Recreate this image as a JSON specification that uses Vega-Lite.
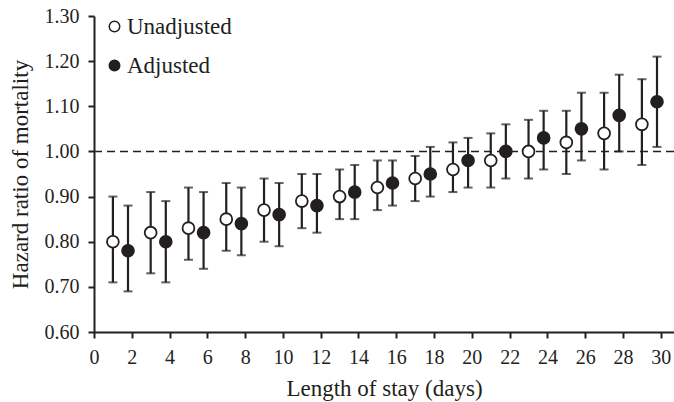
{
  "$schema": "https://vega.github.io/schema/vega-lite/v6.json",
  "width": 580,
  "height": 316,
  "autosize": {"type": "none"},
  "padding": {"left": 94, "top": 16, "right": 0, "bottom": 70},
  "background": "white",
  "config": {
    "view": {"stroke": null},
    "font": "Liberation Serif",
    "axis": {"grid": false, "domainColor": "#231f20", "tickColor": "#231f20", "labelColor": "#231f20", "titleColor": "#231f20", "labelFont": "Liberation Serif", "titleFont": "Liberation Serif", "titleFontWeight": "normal"}
  },
  "data": {
    "values": [
      {"group": "Unadjusted", "x": 1, "hr": 0.80, "lo": 0.71, "hi": 0.90},
      {"group": "Unadjusted", "x": 3, "hr": 0.82, "lo": 0.73, "hi": 0.91},
      {"group": "Unadjusted", "x": 5, "hr": 0.83, "lo": 0.76, "hi": 0.92},
      {"group": "Unadjusted", "x": 7, "hr": 0.85, "lo": 0.78, "hi": 0.93},
      {"group": "Unadjusted", "x": 9, "hr": 0.87, "lo": 0.80, "hi": 0.94},
      {"group": "Unadjusted", "x": 11, "hr": 0.89, "lo": 0.83, "hi": 0.95},
      {"group": "Unadjusted", "x": 13, "hr": 0.90, "lo": 0.85, "hi": 0.96},
      {"group": "Unadjusted", "x": 15, "hr": 0.92, "lo": 0.87, "hi": 0.98},
      {"group": "Unadjusted", "x": 17, "hr": 0.94, "lo": 0.89, "hi": 0.99},
      {"group": "Unadjusted", "x": 19, "hr": 0.96, "lo": 0.91, "hi": 1.02},
      {"group": "Unadjusted", "x": 21, "hr": 0.98, "lo": 0.92, "hi": 1.04},
      {"group": "Unadjusted", "x": 23, "hr": 1.00, "lo": 0.94, "hi": 1.07},
      {"group": "Unadjusted", "x": 25, "hr": 1.02, "lo": 0.95, "hi": 1.09},
      {"group": "Unadjusted", "x": 27, "hr": 1.04, "lo": 0.96, "hi": 1.13},
      {"group": "Unadjusted", "x": 29, "hr": 1.06, "lo": 0.97, "hi": 1.16},
      {"group": "Adjusted", "x": 1.8, "hr": 0.78, "lo": 0.69, "hi": 0.88},
      {"group": "Adjusted", "x": 3.8, "hr": 0.80, "lo": 0.71, "hi": 0.89},
      {"group": "Adjusted", "x": 5.8, "hr": 0.82, "lo": 0.74, "hi": 0.91},
      {"group": "Adjusted", "x": 7.8, "hr": 0.84, "lo": 0.77, "hi": 0.92},
      {"group": "Adjusted", "x": 9.8, "hr": 0.86, "lo": 0.79, "hi": 0.93},
      {"group": "Adjusted", "x": 11.8, "hr": 0.88, "lo": 0.82, "hi": 0.95},
      {"group": "Adjusted", "x": 13.8, "hr": 0.91, "lo": 0.85, "hi": 0.97},
      {"group": "Adjusted", "x": 15.8, "hr": 0.93, "lo": 0.88, "hi": 0.98},
      {"group": "Adjusted", "x": 17.8, "hr": 0.95, "lo": 0.90, "hi": 1.01},
      {"group": "Adjusted", "x": 19.8, "hr": 0.98, "lo": 0.92, "hi": 1.03},
      {"group": "Adjusted", "x": 21.8, "hr": 1.00, "lo": 0.94, "hi": 1.06},
      {"group": "Adjusted", "x": 23.8, "hr": 1.03, "lo": 0.96, "hi": 1.09},
      {"group": "Adjusted", "x": 25.8, "hr": 1.05, "lo": 0.98, "hi": 1.13},
      {"group": "Adjusted", "x": 27.8, "hr": 1.08, "lo": 1.00, "hi": 1.17},
      {"group": "Adjusted", "x": 29.8, "hr": 1.11, "lo": 1.01, "hi": 1.21}
    ]
  },
  "encoding": {
    "x": {
      "field": "x", "type": "quantitative",
      "scale": {"domain": [0, 30.7], "nice": false, "zero": false},
      "axis": {
        "title": "Length of stay (days)",
        "values": [0, 2, 4, 6, 8, 10, 12, 14, 16, 18, 20, 22, 24, 26, 28, 30],
        "format": "d",
        "labelFontSize": 20, "titleFontSize": 23,
        "domainWidth": 2, "tickWidth": 2, "tickSize": 6,
        "labelPadding": 9, "titlePadding": 10,
        "labelFlush": false, "labelOverlap": false
      }
    }
  },
  "layer": [
    {
      "data": {"values": [{"ref": 1}]},
      "mark": {"type": "rule", "strokeDash": [8, 5], "strokeWidth": 1.6, "color": "#231f20"},
      "encoding": {
        "x": null,
        "y": {"field": "ref", "type": "quantitative"}
      }
    },
    {
      "mark": {"type": "rule", "strokeWidth": 2.2, "color": "#231f20"},
      "encoding": {
        "y": {
          "field": "lo", "type": "quantitative",
          "scale": {"domain": [0.6, 1.3], "nice": false, "zero": false},
          "axis": {
            "title": "Hazard ratio of mortality",
            "values": [0.6, 0.7, 0.8, 0.9, 1.0, 1.1, 1.2, 1.3],
            "format": ".2f",
            "labelFontSize": 20, "titleFontSize": 23,
            "domainWidth": 2, "tickWidth": 2, "tickSize": 6,
            "labelPadding": 9, "titlePadding": 12,
            "labelFlush": false, "labelOverlap": false
          }
        },
        "y2": {"field": "hi"}
      }
    },
    {
      "mark": {"type": "tick", "orient": "horizontal", "size": 9, "thickness": 2, "color": "#231f20"},
      "encoding": {"y": {"field": "lo", "type": "quantitative"}}
    },
    {
      "mark": {"type": "tick", "orient": "horizontal", "size": 9, "thickness": 2, "color": "#231f20"},
      "encoding": {"y": {"field": "hi", "type": "quantitative"}}
    },
    {
      "mark": {"type": "point", "shape": "circle", "filled": true, "size": 140, "stroke": "#231f20", "strokeWidth": 1.8, "opacity": 1},
      "encoding": {
        "y": {"field": "hr", "type": "quantitative"},
        "fill": {
          "field": "group", "type": "nominal",
          "scale": {"domain": ["Unadjusted", "Adjusted"], "range": ["white", "#231f20"]},
          "legend": {
            "title": null,
            "orient": "none",
            "legendX": 9,
            "legendY": -1,
            "labelFontSize": 23,
            "labelFont": "Liberation Serif",
            "labelColor": "#231f20",
            "symbolType": "circle",
            "symbolSize": 110,
            "symbolStrokeColor": "#231f20",
            "symbolStrokeWidth": 1.5,
            "labelOffset": 1,
            "rowPadding": 15
          }
        }
      }
    }
  ]
}
